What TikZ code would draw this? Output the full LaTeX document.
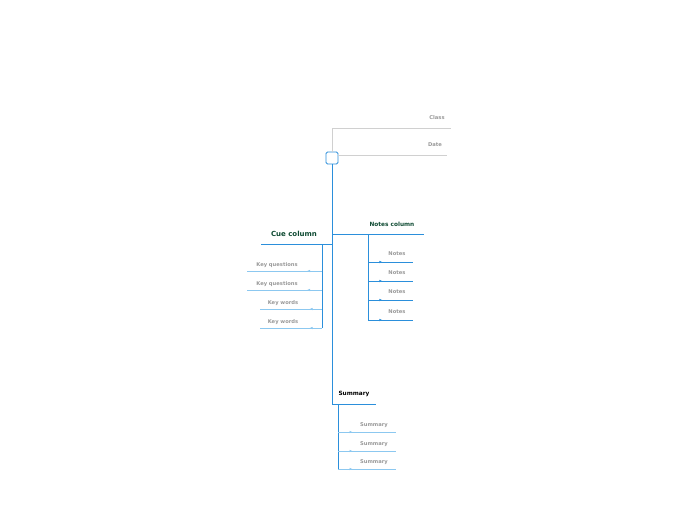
\documentclass[tikz,border=0pt]{standalone}
\usepackage{fontspec}
\setmainfont{DejaVu Sans}
\usetikzlibrary{arrows.meta,decorations.markings}
\definecolor{mblue}{HTML}{2B8FDB}
\definecolor{lblue}{HTML}{8CC8F0}
\definecolor{lgray}{HTML}{D0D0D0}
\definecolor{tgray}{HTML}{999999}
\definecolor{dgreen}{HTML}{0E4A32}
\tikzset{
  lab/.style={font=\bfseries\fontsize{5.2}{6}\selectfont,text=tgray,inner sep=0},
  trunk/.style={draw=mblue,line width=0.8pt},
  leaf/.style={draw=lblue,line width=0.8pt},
  marr/.style={postaction={decorate},decoration={markings,mark=at position #1 with {\arrow{Latex[length=3pt,width=2.5pt]}}}},
}
\begin{document}
\begin{tikzpicture}[x=1pt,y=-1pt]
\useasboundingbox (0,0) rectangle (697,520);
% root
\node[draw=mblue,fill=white,rounded corners=1.5pt,minimum size=12pt,inner sep=0,line width=0.8pt] (root) at (332,158) {};
\coordinate (c1) at (332,128); \coordinate (c2) at (451,128);
\coordinate (d2) at (447,155);
\draw[lgray,line width=0.8pt] (root.north) -- (c1) -- (c2);
\draw[lgray,line width=0.8pt] (root.east |- d2) -- (d2);
\node[lab] (cls) at (437,118) {Class};
\node[lab] (dat) at (435,145) {Date};
% main trunk
\coordinate (m1) at (332,234); \coordinate (m2) at (332,244); \coordinate (m3) at (332,404);
\draw[trunk] (root.south) -- (m3);
% cue column
\coordinate (cueL) at (261,244);
\draw[trunk] (m2) -- (cueL);
\node[font=\bfseries\fontsize{7}{8}\selectfont,text=dgreen,inner sep=0] (cue) at (294,234) {Cue column};
\coordinate (ct1) at (322,244); \coordinate (ct2) at (322,328);
\draw[trunk] (ct1) -- (ct2);
\foreach \y/\xl/\xt/\t in {271/247/277/Key questions,290/247/277/Key questions,309/260/283/Key words,328/260/283/Key words}{
  \coordinate (a) at (322,\y); \coordinate (b) at (\xl,\y);
  \draw[leaf,marr=0.2] (a) -- (b);
  \node[lab] at (\xt,\y-6) {\t};
}
% notes column
\coordinate (nR) at (424,234);
\draw[trunk] (m1) -- (nR);
\node[font=\bfseries\fontsize{5.8}{7}\selectfont,text=dgreen,inner sep=0] (notes) at (392,224) {Notes column};
\coordinate (nt1) at (368,234); \coordinate (nt2) at (368,320);
\draw[trunk] (nt1) -- (nt2);
\foreach \y in {262,281,300,320}{
  \coordinate (a) at (368,\y); \coordinate (b) at (413,\y);
  \draw[trunk,marr=0.32] (a) -- (b);
  \node[lab] at (397,\y-8) {Notes};
}
% summary
\coordinate (sR) at (376,404);
\draw[trunk] (m3) -- (sR);
\node[font=\bfseries\fontsize{5.8}{7}\selectfont,text=black,inner sep=0] (sum) at (354,394) {Summary};
\coordinate (st1) at (338,404); \coordinate (st2) at (338,469);
\draw[trunk] (st1) -- (st2);
\foreach \y in {432,451,469}{
  \coordinate (a) at (338,\y); \coordinate (b) at (396,\y);
  \draw[leaf,marr=0.25] (a) -- (b);
  \node[lab] at (374,\y-7) {Summary};
}
\end{tikzpicture}
\end{document}
